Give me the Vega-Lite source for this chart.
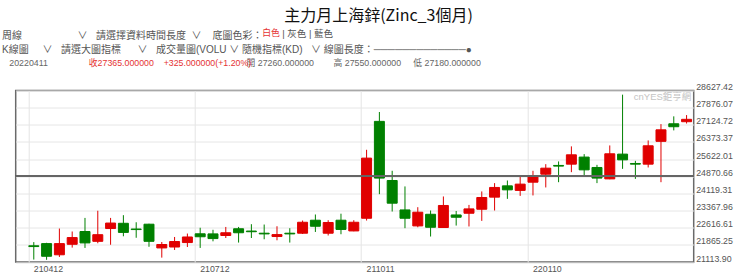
{
  "$schema": "https://vega.github.io/schema/vega-lite/v6.json",
  "width": 678,
  "height": 171.5,
  "autosize": {"type": "none"},
  "padding": {"left": 15.7, "top": 90.5, "right": 46.3, "bottom": 13},
  "background": "white",
  "config": {"view": {"stroke": "#6a6a6a", "strokeWidth": 1.5}},
  "title": {
    "text": [
      "周線\u3000\u3000\u3000\u3000\u3000\u00a0\u00a0∨\u00a0\u00a0\u00a0請選擇資料時間長度\u00a0\u00a0∨\u00a0\u00a0\u00a0\u00a0底圖色彩：",
      "\u200bK線圖\u00a0\u00a0\u00a0\u00a0\u00a0∨\u00a0\u00a0\u00a0請選大圖指標\u00a0\u00a0\u00a0\u00a0\u00a0\u00a0∨\u00a0\u00a0\u00a0成交量圖(VOLU\u00a0∨\u00a0隨機指標(KD)\u00a0\u00a0\u00a0∨\u00a0線圖長度：─────────────●"
    ],
    "subtitle": "\u200b\u00a0\u00a0\u00a020220411",
    "anchor": "start",
    "frame": "group",
    "dx": -13.7,
    "offset": -60,
    "font": "Liberation Sans, Noto Sans CJK TC",
    "fontSize": 10,
    "fontWeight": "normal",
    "lineHeight": 14.5,
    "color": "#555555",
    "subtitleFont": "Liberation Sans, Noto Sans CJK TC",
    "subtitleFontSize": 8.8,
    "subtitleColor": "#666666",
    "subtitlePadding": 4
  },
  "data": {
    "values": [
      {"d": "210412", "o": 21825, "h": 21985, "l": 21220, "c": 21790},
      {"d": "210419", "o": 21920, "h": 21955, "l": 21210, "c": 21365},
      {"d": "210426", "o": 21430, "h": 22580, "l": 21335, "c": 21920},
      {"d": "210503", "o": 21890, "h": 22450, "l": 21745, "c": 22185},
      {"d": "210510", "o": 22450, "h": 23045, "l": 21730, "c": 21950},
      {"d": "210517", "o": 22020, "h": 23360, "l": 21935, "c": 22310},
      {"d": "210524", "o": 22580, "h": 23045, "l": 21870, "c": 22820},
      {"d": "210531", "o": 22810, "h": 23165, "l": 22240, "c": 22410},
      {"d": "210607", "o": 22560, "h": 22855, "l": 22175, "c": 22535},
      {"d": "210614", "o": 22770, "h": 22790, "l": 21780, "c": 22020},
      {"d": "210621", "o": 21730, "h": 21990, "l": 21305, "c": 21880},
      {"d": "210628", "o": 21770, "h": 22210, "l": 21640, "c": 22010},
      {"d": "210705", "o": 21965, "h": 22360, "l": 21770, "c": 22210},
      {"d": "210712", "o": 22350, "h": 22615, "l": 21730, "c": 22220},
      {"d": "210719", "o": 22345, "h": 22525, "l": 22020, "c": 22140},
      {"d": "210726", "o": 22275, "h": 22650, "l": 22165, "c": 22395},
      {"d": "210802", "o": 22570, "h": 22650, "l": 21965, "c": 22395},
      {"d": "210809", "o": 22470, "h": 22770, "l": 22165, "c": 22440},
      {"d": "210816", "o": 22375, "h": 22755, "l": 22110, "c": 22345},
      {"d": "210823", "o": 22230, "h": 22680, "l": 22065, "c": 22315},
      {"d": "210830", "o": 22375, "h": 22595, "l": 21965, "c": 22345},
      {"d": "210906", "o": 22375, "h": 22930, "l": 22340, "c": 22855},
      {"d": "210913", "o": 22945, "h": 23195, "l": 22430, "c": 22680},
      {"d": "210920", "o": 22375, "h": 22945, "l": 22275, "c": 22845},
      {"d": "210927", "o": 22945, "h": 23230, "l": 22330, "c": 22540},
      {"d": "211004", "o": 22475, "h": 22945, "l": 22460, "c": 22855},
      {"d": "211011", "o": 23030, "h": 26030, "l": 22930, "c": 25665},
      {"d": "211018", "o": 27275, "h": 27685, "l": 24085, "c": 24790},
      {"d": "211025", "o": 24685, "h": 25110, "l": 23325, "c": 23690},
      {"d": "211101", "o": 23395, "h": 24425, "l": 22595, "c": 23030},
      {"d": "211108", "o": 22695, "h": 23515, "l": 22635, "c": 23295},
      {"d": "211115", "o": 23205, "h": 23370, "l": 22230, "c": 22635},
      {"d": "211122", "o": 22625, "h": 23985, "l": 22610, "c": 23590},
      {"d": "211129", "o": 23175, "h": 23350, "l": 22710, "c": 23075},
      {"d": "211206", "o": 23250, "h": 23615, "l": 22670, "c": 23440},
      {"d": "211213", "o": 23425, "h": 24205, "l": 22915, "c": 23940},
      {"d": "211220", "o": 23955, "h": 24570, "l": 23370, "c": 24380},
      {"d": "211227", "o": 24450, "h": 24685, "l": 23880, "c": 24275},
      {"d": "220103", "o": 24250, "h": 24860, "l": 24010, "c": 24525},
      {"d": "220110", "o": 24610, "h": 25110, "l": 24030, "c": 24895},
      {"d": "220117", "o": 24960, "h": 25400, "l": 24380, "c": 25225},
      {"d": "220124", "o": 25345, "h": 25520, "l": 24610, "c": 25315},
      {"d": "220207", "o": 25400, "h": 26180, "l": 25050, "c": 25810},
      {"d": "220214", "o": 25710, "h": 25840, "l": 24860, "c": 25150},
      {"d": "220221", "o": 25255, "h": 25370, "l": 24570, "c": 24790},
      {"d": "220228", "o": 24755, "h": 26220, "l": 24740, "c": 25855},
      {"d": "220307", "o": 25840, "h": 28445, "l": 25195, "c": 25590},
      {"d": "220314", "o": 25430, "h": 25545, "l": 24755, "c": 25400},
      {"d": "220321", "o": 25400, "h": 26440, "l": 25255, "c": 26205},
      {"d": "220328", "o": 26400, "h": 27155, "l": 24610, "c": 26905},
      {"d": "220404", "o": 27170, "h": 27495, "l": 26880, "c": 27040},
      {"d": "220411", "o": 27260, "h": 27550, "l": 27180, "c": 27365}
    ]
  },
  "resolve": {"axis": {"x": "independent", "y": "independent"}},
  "layer": [
    {
      "mark": {"type": "rule", "strokeWidth": 1},
      "encoding": {
        "x": {
          "field": "d",
          "type": "ordinal",
          "scale": {"type": "band", "paddingInner": 0.22, "paddingOuter": 0.595, "align": 0.86},
          "axis": {
            "orient": "bottom",
            "values": ["210412", "210712", "211011", "220110"],
            "bandPosition": 0,
            "labelAngle": 0,
            "labelAlign": "left",
            "labelFont": "Liberation Sans",
            "labelFontSize": 8.8,
            "labelColor": "#555555",
            "labelPadding": 2,
            "labelOverlap": false,
            "ticks": false,
            "domain": false,
            "grid": true,
            "gridColor": "#e4e4e4",
            "gridWidth": 1,
            "title": "開\u00a027260.000000\u00a0\u00a0\u00a0\u00a0\u00a0\u00a0\u00a0\u00a0高\u00a027550.000000\u00a0\u00a0\u00a0\u00a0\u00a0低\u00a027180.000000",
            "titleFont": "Liberation Sans, Noto Sans CJK TC",
            "titleFontSize": 8.8,
            "titleFontWeight": "normal",
            "titleColor": "#666666",
            "titleAlign": "left",
            "titleBaseline": "top",
            "titleAngle": 0,
            "titleX": 230.3,
            "titleY": -203.6
          }
        },
        "y": {
          "field": "l",
          "type": "quantitative",
          "scale": {"domain": [21113.90, 28627.42], "nice": false, "zero": false},
          "axis": {
            "orient": "right",
            "values": [21113.90, 21865.25, 22616.61, 23367.96, 24119.31, 24870.66, 25622.01, 26373.37, 27124.72, 27876.07, 28627.42],
            "format": ".2f",
            "labelFont": "Liberation Sans",
            "labelFontSize": 8.8,
            "labelColor": "#555555",
            "labelPadding": 2,
            "labelOffset": -4,
            "labelOverlap": false,
            "labelFlush": false,
            "ticks": false,
            "domain": false,
            "grid": true,
            "gridColor": "#e6e6e6",
            "gridWidth": 1,
            "title": "收27365.000000\u00a0\u00a0\u00a0\u00a0+325.000000(+1.20%)",
            "titleFont": "Liberation Sans, Noto Sans CJK TC",
            "titleFontSize": 8.8,
            "titleFontWeight": "normal",
            "titleColor": "#e53333",
            "titleAlign": "left",
            "titleBaseline": "top",
            "titleAngle": 0,
            "titleX": -605.4,
            "titleY": -32.1
          }
        },
        "y2": {"field": "h"},
        "color": {"condition": {"test": "datum.c >= datum.o", "value": "#e00000"}, "value": "#008000"}
      }
    },
    {
      "transform": [{"filter": "datum.c >= datum.o"}],
      "mark": {"type": "bar", "strokeWidth": 1, "color": "#e00000", "stroke": "#e00000"},
      "encoding": {
        "x": {
          "field": "d",
          "type": "ordinal",
          "axis": {
            "orient": "top",
            "labels": false,
            "ticks": false,
            "domain": false,
            "grid": false,
            "title": "主力月上海鋅(Zinc_3個月)",
            "titleFont": "Noto Sans CJK TC",
            "titleFontSize": 16,
            "titleFontWeight": "normal",
            "titleColor": "#111111",
            "titleAlign": "center",
            "titleBaseline": "middle",
            "titleAngle": 0,
            "titleX": 362.3,
            "titleY": -74.7
          }
        },
        "y": {
          "field": "o",
          "type": "quantitative",
          "axis": {
            "orient": "left",
            "labels": false,
            "ticks": false,
            "domain": false,
            "grid": false,
            "title": "cnYES鉅亨網",
            "titleFont": "Liberation Sans, Noto Sans CJK TC",
            "titleFontSize": 9.5,
            "titleFontWeight": "normal",
            "titleColor": "#c4c4c4",
            "titleAlign": "left",
            "titleBaseline": "middle",
            "titleAngle": 0,
            "titleX": 617.6,
            "titleY": 5.5
          }
        },
        "y2": {"field": "c"}
      }
    },
    {
      "transform": [{"filter": "datum.c < datum.o"}],
      "mark": {"type": "bar", "strokeWidth": 1, "color": "#008000", "stroke": "#008000"},
      "encoding": {
        "x": {
          "field": "d",
          "type": "ordinal",
          "axis": {
            "orient": "top",
            "labels": false,
            "ticks": false,
            "domain": false,
            "grid": false,
            "title": "|\u00a0灰色\u00a0|\u00a0藍色",
            "titleFont": "Liberation Sans, Noto Sans CJK TC",
            "titleFontSize": 9.5,
            "titleFontWeight": "normal",
            "titleColor": "#555555",
            "titleAlign": "left",
            "titleBaseline": "top",
            "titleAngle": 0,
            "titleX": 266,
            "titleY": -62.4
          }
        },
        "y": {
          "field": "o",
          "type": "quantitative",
          "axis": {
            "orient": "left",
            "labels": false,
            "ticks": false,
            "domain": false,
            "grid": false,
            "title": "白色",
            "titleFont": "Liberation Sans, Noto Sans CJK TC",
            "titleFontSize": 8.8,
            "titleFontWeight": "normal",
            "titleColor": "#e53333",
            "titleAlign": "left",
            "titleBaseline": "top",
            "titleAngle": 0,
            "titleX": 246,
            "titleY": -62.1
          }
        },
        "y2": {"field": "c"}
      }
    },
    {
      "mark": {"type": "rule", "color": "#666666", "strokeWidth": 1},
      "encoding": {
        "y": {"datum": 24870.66, "type": "quantitative", "axis": null}
      }
    }
  ]
}
